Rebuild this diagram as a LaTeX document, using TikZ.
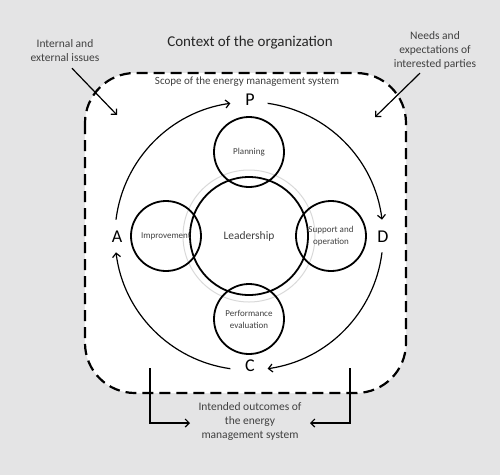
\documentclass[tikz,border=0pt]{standalone}
\usepackage{fontspec}
\setmainfont{Carlito}
\usetikzlibrary{arrows.meta}
\definecolor{bggray}{RGB}{228,228,229}
\definecolor{txtgray}{RGB}{64,64,64}
\begin{document}
\begin{tikzpicture}[x=1pt,y=1pt]
\tikzstyle{every node}+=[inner sep=0pt, text=txtgray]
\tikzstyle{ring}=[draw, circle, line width=1.8pt, minimum size=70pt, align=center, font=\fontsize{9}{12}\selectfont]
\tikzstyle{pdca}=[font=\fontsize{18}{18}\selectfont, text=black]
\tikzstyle{flow}=[line width=1.2pt, -{Straight Barb[length=4pt,width=8pt]}]
\tikzstyle{note}=[align=center, font=\fontsize{11.5}{14}\selectfont]
\fill[bggray] (-249,-239) rectangle (251,236);
\useasboundingbox (-249,-239) rectangle (251,236);
% scope of the system
\draw[line width=2.2pt, dash pattern=on 11pt off 6pt, fill=white, rounded corners=50pt] (-164,163) rectangle (157,-157);
\node[font=\fontsize{15}{15}\selectfont, text=black!85] (ctx) at (1,193) {Context of the organization};
\node[font=\fontsize{11}{11}\selectfont] (scope) at (-2,154) {Scope of the energy management system};
% leadership and the four steps
\draw[gray!30, line width=1pt] (0,0) circle (66);
\node[draw, circle, line width=1.8pt, minimum size=118pt, font=\fontsize{11.5}{11.5}\selectfont] (lead) at (0,0) {Leadership};
\node[ring] (plan) at (0,84) {Planning};
\node[ring] (supp) at (82,0) {Support and\\operation};
\node[ring] (perf) at (0,-83) {Performance\\evaluation};
\node[ring] (impr) at (-83,0) {Improvement};
% PDCA
\node[pdca] (P) at (1,136) {P};
\node[pdca] (D) at (134,-1) {D};
\node[pdca] (C) at (1,-130) {C};
\node[pdca] (A) at (-132,-1) {A};
\coordinate (a1) at (173:134);
\coordinate (a2) at (82:134);
\coordinate (a3) at (-7:134);
\coordinate (a4) at (-98:134);
\draw[flow] (a1) arc[start angle=173, end angle=98, radius=134];
\draw[flow] (a2) arc[start angle=82, end angle=7, radius=134];
\draw[flow] (a3) arc[start angle=-7, end angle=-82, radius=134];
\draw[flow] (a4) arc[start angle=-98, end angle=-173, radius=134];
% inputs
\node[note] (issues) at (-184,185) {Internal and\\external issues};
\node[note] (needs) at (186,186) {Needs and\\expectations of\\interested parties};
\coordinate (in1) at (-132,121);
\coordinate (in2) at (126,119);
\draw[flow] ([shift={(7,-6)}]issues.south) -- (in1);
\draw[flow] ([shift={(-15,-4)}]needs.south) -- (in2);
% outcomes
\node[note] (outc) at (1,-185) {Intended outcomes of\\the energy\\management system};
\coordinate (ol) at (-99,-132);
\coordinate (or) at (101,-132);
\coordinate (ot1) at (-59,-187);
\coordinate (ot2) at (61,-187);
\draw[flow] (ol) |- (ot1);
\draw[flow] (or) |- (ot2);
\end{tikzpicture}
\end{document}
